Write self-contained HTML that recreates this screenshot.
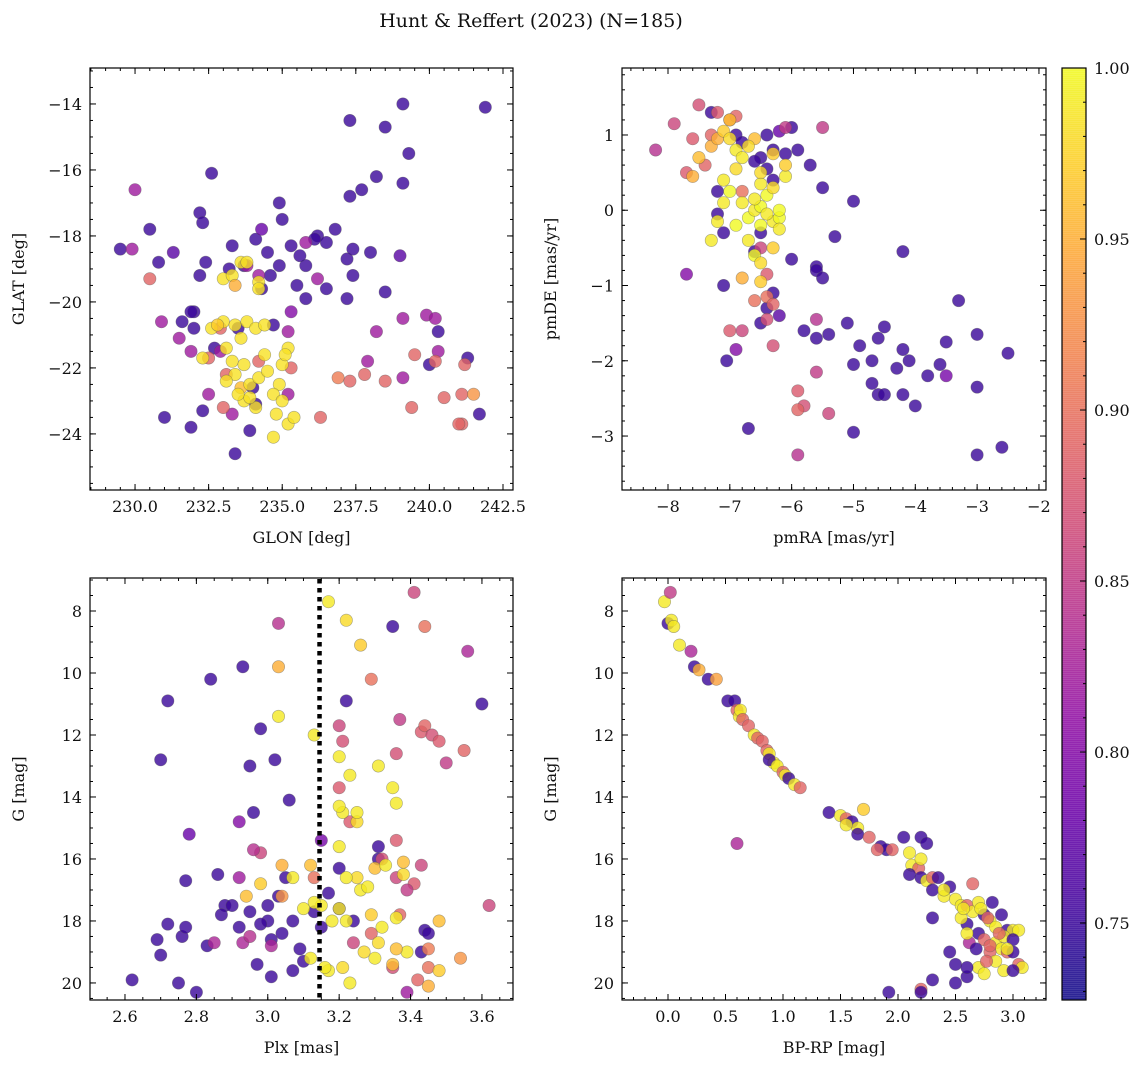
<!DOCTYPE html>
<html><head><meta charset="utf-8"><title>Hunt & Reffert (2023)</title>
<style>
html,body{margin:0;padding:0;background:#fff;}
svg{display:block;font-family:"DejaVu Serif","Liberation Serif",serif;}
</style></head>
<body>
<svg id="chart" width="1148" height="1067" viewBox="0 0 1148 1067" xmlns="http://www.w3.org/2000/svg">
<text x="531" y="27" font-size="19" text-anchor="middle" fill="#111">Hunt &amp; Reffert (2023) (N=185)</text>
<g id="layer"></g>
</svg>
<script>
// ---------- DATA ----------
// Panel 1: GLON / GLAT / membership probability
const glonA=[229.5,230.5,230.8,231.3,232,232.2,232.3,232.6,233.3,234.1,234.3,234.5,234.6,234.9,235,235.3,235.5,235.8,236.2,236.5,236.8,237.3,237.3,237.7,238.2,238.5,239.1,239.3,239.1,238,239,237.4,237.2,236.5,235.8,234.9,233.2,232.2,232,231.6,231,231.9,232.3,233.4,234.1,233.9,234,232.7,233.5,236.1,237.2,241.9,241.7,240.3,241.3,240,238.5,237.4,235.6,234.3,234.7,231.9,232.4,233.7,
230,229.9,231.5,230.9,234.2,235.2,235.3,236.2,237.9,238.2,239.1,239.9,240.2,240.3,239.1,235.2,233.3,232.5,235.8,233.8,232.9,231.9,
230.5,232.5,233.1,235.3,236.9,237.8,238.5,239.5,240.2,239.4,240.5,241.1,241.1,241.2,241.5,236.3,237.3,233,234.2,232.9,241,
233,233.3,233.6,233.4,233.8,234.2,234.2,232.6,233,233.4,233.8,234.1,234.4,233.6,233.1,233.3,233.4,233.1,233.6,233.9,234.2,234.5,235,235.2,234.9,234.7,233.7,234.1,234.8,235.2,235.4,234.7,232.3,232.8,233.9,235,233.7,234.4,235.1,233.5];
const glatA=[-18.4,-17.8,-18.8,-18.5,-20.3,-17.3,-17.6,-16.1,-18.3,-18.1,-17.8,-18.5,-19.2,-17,-17.5,-18.3,-19.5,-19.9,-18,-19.6,-17.8,-14.5,-16.8,-16.6,-16.2,-14.7,-14,-15.5,-16.4,-18.5,-18.6,-19.2,-19.9,-18.2,-18.9,-18.9,-19,-19.2,-20.8,-20.6,-23.5,-23.8,-23.3,-24.6,-23.1,-23.9,-22.6,-21.4,-20.8,-18.1,-18.7,-14.1,-23.4,-20.9,-21.7,-21.9,-19.7,-18.4,-18.6,-19.6,-20.7,-20.3,-18.8,-18.9,
-16.6,-18.4,-21.1,-20.6,-19.2,-20.9,-20.3,-19.3,-21.8,-20.9,-20.5,-20.4,-20.5,-21.5,-22.3,-22.8,-23.4,-22.8,-18.2,-18.9,-21.5,-21.5,
-19.3,-21.7,-22.2,-22,-22.3,-22.2,-22.4,-21.6,-21.8,-23.2,-22.9,-22.8,-23.7,-21.9,-22.8,-23.5,-22.4,-23.2,-21.8,-20.8,-23.7,
-19.3,-19.2,-18.8,-19.5,-18.8,-19.4,-19.6,-20.8,-20.6,-20.7,-20.6,-20.8,-20.7,-21.1,-21.4,-21.8,-22.2,-22.4,-22.6,-22.5,-22.3,-22.1,-21.9,-21.4,-22.5,-22.8,-23,-23.2,-23.4,-23.7,-23.5,-24.1,-21.7,-20.7,-22.9,-23,-21.9,-21.6,-21.6,-22.8];
const probA=[].concat(Array(64).fill(0.75),Array(22).fill(0.82),Array(21).fill(0.89),Array(40).fill(0.985));
probA[3]=0.77;probA[10]=0.78;probA[30]=0.77;probA[70]=0.8;probA[90]=0.91;probA[100]=0.93;probA[110]=0.95;probA[125]=0.96;probA[140]=0.97;

// Panel 2: pmRA / pmDE
const pmraB=[-7.3,-6.9,-6.3,-6.1,-5.9,-6.2,-6,-6.4,-6.5,-5.7,-5.5,-5.3,-5,-5.6,-5.6,-5.5,-6,-6.3,-6.5,-6.4,-6.2,-5.8,-5.6,-5.4,-5.1,-4.9,-4.7,-4.6,-4.5,-4.7,-4.6,-4.5,-4.3,-4.2,-4.1,-4.2,-4,-4.2,-3.8,-3.6,-3.5,-3.5,-3.3,-3,-3,-2.5,-2.6,-3,-5,-5,-6.7,-7.2,-7.1,-7.05,-6.6,-6.5,-7.2,-7.1,-6.8,-6.6,-6.4,-6.3,
-8.2,-7.9,-7.7,-7.5,-7.6,-7.4,-7,-7.7,-6.8,-6.3,-5.9,-5.8,-5.9,-5.9,-5.4,-5.6,-5.6,-5.5,-6.1,-6.4,-6.4,-6.3,-6.4,-6.6,-7.2,-7,-6.9,-6.8,-6.5,-7.3,-6.9,
-7.6,-7.5,-7.3,-7.2,-7,-7.1,-7,-6.9,-6.8,-6.9,-7.1,-7,-6.8,-7.1,-7.2,-7.3,-6.9,-6.7,-6.6,-6.5,-6.6,-6.4,-6.5,-6.3,-6.5,-6.3,-6.2,-6.1,-6.1,-6.7,-6.6,-6.5,-6.8,-6.5,-6.2,-6.5,-6.6,-6.3,-6.2,-6.4,-6.7,-6.3];
const pmdeB=[1.3,1,0.8,0.75,0.8,1.05,1.1,1,0.7,0.6,0.3,-0.35,0.12,-0.75,-0.8,-0.9,-0.65,-1.1,-1.5,-1.3,-1.4,-1.6,-1.7,-1.65,-1.5,-1.8,-2,-1.7,-1.55,-2.3,-2.45,-2.45,-2.1,-1.85,-2,-2.45,-2.6,-0.55,-2.2,-2.05,-2.2,-1.75,-1.2,-1.65,-2.35,-1.9,-3.15,-3.25,-2.95,-2.05,-2.9,-0.05,-1,-2,-0.55,-0.3,0.25,-0.3,0.9,0.65,0.55,0.4,
0.8,1.15,0.5,1.4,0.95,0.6,-1.6,-0.85,-1.6,-1.8,-2.4,-2.6,-2.65,-3.25,-2.7,-2.15,-1.45,1.1,1.1,-0.85,-1.15,-1.25,-1.45,-1.2,1.3,1.2,1.25,0.25,-0.5,1,-1.85,
0.45,0.7,0.85,0.95,1.2,1.05,0.95,0.8,0.7,0.55,0.4,0.25,0.1,0.1,-0.15,-0.4,-0.2,-0.1,0,0.05,0.15,0.2,0.35,0.3,-0.2,-0.15,-0.1,0.45,0.6,-0.4,-0.6,-0.7,-0.9,-0.95,-0.25,0.5,0.95,-0.5,0,-0.05,0.85,0.75];
const probB=[].concat(Array(62).fill(0.75),[0.84,0.86,0.88,0.87,0.88,0.89,0.88,0.8,0.86,0.87,0.88,0.87,0.89,0.84,0.86,0.85,0.84,0.85,0.85,0.88,0.9,0.89,0.87,0.9,0.88,0.9,0.89,0.9,0.86,0.89,0.8],
[0.95,0.96,0.95,0.95,0.96,0.97,0.98,0.99,0.99,0.98,0.99,1,0.99,0.99,0.99,0.99,1,1,0.99,1,0.99,1,0.99,0.98,1,0.99,1,0.99,0.97,0.99,1,0.98,0.95,0.97,0.99,0.98,0.96,0.97,1,0.99,0.98,0.97]);
probB[5]=0.78;probB[20]=0.77;probB[40]=0.79;

// Panel 3: Plx / G
const plxC=[2.62,2.7,2.72,2.72,2.69,2.7,2.76,2.77,2.78,2.75,2.8,2.77,2.84,2.86,2.88,2.87,2.9,2.93,2.96,2.98,2.95,2.92,3,3,3.01,3.02,2.97,3.01,3.03,3.05,3.06,3.07,3.07,3.09,3.1,3.13,3.15,3.15,3.17,3.2,3.2,3.24,3.35,3.44,3.43,3.45,3.6,3.31,3.22,3.31,2.95,2.98,3.04,2.83,2.92,
2.92,2.93,2.95,2.98,3.03,2.96,2.85,3.01,3.2,3.21,3.2,3.29,3.32,3.37,3.36,3.36,3.41,3.43,3.44,3.46,3.48,3.5,3.55,3.56,3.62,3.39,3.36,3.43,3.41,3.45,3.42,3.45,3.39,3.37,3.44,3.23,3.24,3.35,3.04,3.13,3.29,
3.17,3.03,3.03,3.13,3.22,3.26,3.2,3.23,3.21,3.25,3.31,3.2,3.25,3.22,3.26,3.28,3.3,3.33,3.38,3.38,3.29,3.36,3.2,3.22,3.18,3.21,3.17,3.23,3.27,3.3,3.35,3.31,3.39,3.36,3.45,3.48,3.48,3.54,3.15,3.13,3.1,3.07,3.04,2.94,2.98,3.12,3.12,3.25,3.36,3.35,3.32,3.2,3.16];
const gC=[19.9,12.8,10.9,18.1,18.6,19.1,18.5,18.2,15.2,20,20.3,16.7,10.2,16.5,17.5,17.8,17.5,9.8,14.5,11.8,13,14.8,17.5,18,18.6,12.8,19.4,19.8,17.2,16.6,14.1,18,19.6,18.9,19.3,17.7,15.4,18.2,17.1,16.3,17.6,18,8.5,18.3,19,18.4,11,15.6,10.9,16,17.7,18.1,18.4,18.8,18.2,
16.6,18.7,18.5,15.8,8.4,15.7,18.7,18.8,11.7,12.2,13.7,10.2,16,11.5,15.4,16.6,7.4,11.9,11.7,12,12.2,12.9,12.5,9.3,17.5,20.3,12.6,16.2,16.8,19.5,19.9,18.9,17,17.8,8.5,14.8,18.7,19.5,17.2,16.6,18.4,
7.7,9.8,11.4,12,8.3,9.1,12.7,13.3,14.5,14.8,13,14.3,16.6,16.6,17,16.9,16.3,16.2,16.1,16.5,17.8,17.9,17.6,18,18,19.5,19.6,20,19,19.2,19.4,18.7,19,18.9,20.1,18,19.6,19.2,17.5,17.4,17.6,16.6,16.2,17.2,16.8,19.2,16.2,14.5,14.2,13.7,18.2,15.6,19.5];
const probC=[].concat(Array(55).fill(0.75),[0.82,0.83,0.84,0.86,0.84,0.84,0.83,0.83,0.86,0.87,0.88,0.9,0.87,0.85,0.88,0.86,0.86,0.88,0.89,0.87,0.88,0.85,0.89,0.83,0.86,0.82,0.87,0.86,0.88,0.9,0.89,0.91,0.85,0.89,0.9,0.88,0.86,0.87,0.93,0.9,0.89],
[0.99,0.95,0.99,0.99,0.98,0.97,0.99,0.99,0.99,0.98,0.99,0.99,0.98,0.99,0.99,0.99,0.96,0.99,0.96,0.98,0.97,0.99,0.99,0.99,0.99,0.98,0.99,0.99,0.98,0.99,0.96,0.98,0.99,0.96,0.95,0.96,0.97,0.93,0.99,0.99,0.99,0.99,0.95,0.96,0.97,0.99,0.96,0.99,0.99,0.99,0.99,0.99,0.99]);
probC[8]=0.78;probC[21]=0.8;probC[36]=0.79;

// Panel 4: BP-RP / G
const bprpD=[-0.03,0.02,0,0.03,0.05,0.1,0.2,0.23,0.27,0.35,0.42,0.52,0.58,0.6,0.62,0.63,0.65,0.7,0.75,0.78,0.82,0.86,0.88,0.92,0.88,0.95,1,1.02,1.05,1.1,1.15,0.6,1.4,1.5,1.55,1.6,1.65,1.7,1.65,1.75,1.85,1.9,1.95,2.05,2.1,2.2,2.25,2.12,2.18,2.2,2.25,2.3,2.35,2.4,2.3,2.45,2.5,2.55,2.6,2.65,2.7,2.65,2.75,2.8,2.85,2.9,2.95,3,3.05,2.6,2.7,2.75,2.85,2.9,2.95,3,3.05,3.08,2.8,2.85,2.7,2.6,2.5,2.45,2.3,2.2,2.2,1.92,2.5,2.6,2.77,2.62,2.3,2.55,2.72,2.92,2.8,3,2.88,2.68,2.78,2.57,2.82,2.92,2.75,2.6,2.4,2.2,1.55,1.82,2.1,3,2.95];
const gD=[7.7,7.4,8.4,8.3,8.5,9.1,9.3,9.8,9.9,10.2,10.2,10.9,10.9,11.2,11.4,11.2,11.5,11.7,12,12.1,12.2,12.5,12.6,12.9,12.8,13,13.2,13.3,13.4,13.6,13.7,15.5,14.5,14.6,14.7,14.8,15,14.4,15.2,15.3,15.6,15.7,15.7,15.3,15.8,15.3,15.5,16.2,16.3,16.6,16.7,16.6,16.6,17.2,17,16.9,17.3,17.5,17.5,17.7,17.4,16.8,17.8,18,18.2,17.8,18.3,18.3,18.3,18.1,18.4,18.6,18.7,18.9,19,19,19.4,19.5,19,19.3,19.5,19.8,19.4,19,19.9,20.2,20.3,20.3,20,19.5,19.3,18.7,17.9,17.9,17.6,18.5,18.8,18.6,18.4,18.9,17.9,17.6,17.4,19.6,19.7,18.4,17,16,14.9,15.7,16.5,19.6,18.9];
const probD=[0.99,0.85,0.75,0.99,0.99,0.99,0.83,0.75,0.95,0.75,0.94,0.75,0.75,0.89,0.99,0.99,0.89,0.89,0.99,0.89,0.89,0.89,0.99,0.99,0.75,0.99,0.89,0.99,0.75,0.99,0.89,0.83,0.75,0.99,0.89,0.75,0.99,0.97,0.75,0.89,0.75,0.75,0.89,0.75,0.99,0.75,0.75,0.99,0.89,0.75,0.99,0.89,0.75,0.99,0.75,0.75,0.99,0.99,0.89,0.99,0.99,0.89,0.75,0.99,0.99,0.75,0.75,0.99,0.99,0.75,0.75,0.89,0.99,0.99,0.89,0.75,0.89,0.99,0.89,0.99,0.99,0.75,0.75,0.75,0.75,0.89,0.75,0.75,0.75,0.75,0.89,0.83,0.75,0.99,0.99,0.99,0.89,0.75,0.89,0.75,0.89,0.99,0.75,0.99,0.99,0.99,0.99,0.99,0.99,0.89,0.75,0.75,0.99];

// tick arrays
const ticksA_x=[230,232.5,235,237.5,240,242.5], ticksA_y=[-14,-16,-18,-20,-22,-24];
const ticksB_x=[-8,-7,-6,-5,-4,-3,-2], ticksB_y=[1,0,-1,-2,-3];
const ticksC_x=[2.6,2.8,3.0,3.2,3.4,3.6], ticksG=[8,10,12,14,16,18,20];
const ticksD_x=[0,0.5,1,1.5,2,2.5,3];
const cbTicks=[0.75,0.80,0.85,0.90,0.95,1.00];
const plxLine=3.145;

// ---------- RENDER ----------
const NS="http://www.w3.org/2000/svg";
const layer=document.getElementById('layer');
function mk(tag,attrs,parent){const e=document.createElementNS(NS,tag);for(const k in attrs)e.setAttribute(k,attrs[k]);(parent||layer).appendChild(e);return e;}
const stops=["#0d0887","#41049d","#6a00a8","#8f0da4","#b12a90","#cc4778","#e16462","#f2844b","#fca636","#fcce25","#f0f921"];
function hex(h){return [1,3,5].map(i=>parseInt(h.substr(i,2),16));}
const VMIN=0.7275,VMAX=1.0;
function cmap(v){let t=(v-VMIN)/(VMAX-VMIN);t=Math.max(0,Math.min(1,t));const f=t*10,i=Math.min(9,Math.floor(f)),r=f-i;const a=hex(stops[i]),b=hex(stops[i+1]);return 'rgb('+a.map((c,k)=>Math.round(c+(b[k]-c)*r)).join(',')+')';}
function lin(d0,d1,p0,p1){return v=>p0+(v-d0)/(d1-d0)*(p1-p0);}
function fmt(v,dec){return (v<0?'\u2212':'')+Math.abs(v).toFixed(dec);}

function panel(name,box,xl,yl,xt,yt,xdec,ydec,xminor,yminor,xlab,ylab,xs,ys,ps){
  const [L,T,R,B]=box;
  const sx=lin(xl[0],xl[1],L,R), sy=lin(yl[0],yl[1],B,T);
  const g=mk('g',{});
  
  
  const clipId='clip-'+name;
  const cp=mk('clipPath',{id:clipId},g);mk('rect',{x:L,y:T,width:R-L,height:B-T},cp);
  const pts=mk('g',{'clip-path':'url(#'+clipId+')'},g);
  
  
  for(let i=0;i<xs.length;i++){
    const c=mk('circle',{cx:sx(xs[i]).toFixed(1),cy:sy(ys[i]).toFixed(1),r:6.2,fill:cmap(ps[i]),'fill-opacity':0.8,stroke:'#555','stroke-opacity':0.5,'stroke-width':0.6},pts);
    
    
  }
  const fr=mk('rect',{x:L,y:T,width:R-L,height:B-T,fill:'none',stroke:'#000','stroke-width':1.2},g);
  
  
  const tk=mk('g',{stroke:'#000','stroke-width':1},g);
  const xa=Math.min(xl[0],xl[1]),xb=Math.max(xl[0],xl[1]);
  for(let v=Math.ceil(xa/xminor)*xminor;v<=xb;v+=xminor){const x=sx(v);mk('line',{x1:x,y1:B,x2:x,y2:B-3},tk);mk('line',{x1:x,y1:T,x2:x,y2:T+3},tk);}
  const ya=Math.min(yl[0],yl[1]),yb=Math.max(yl[0],yl[1]);
  for(let v=Math.ceil(ya/yminor)*yminor;v<=yb;v+=yminor){const y=sy(v);mk('line',{x1:L,y1:y,x2:L+3,y2:y},tk);mk('line',{x1:R,y1:y,x2:R-3,y2:y},tk);}
  xt.forEach(v=>{const x=sx(v);mk('line',{x1:x,y1:B,x2:x,y2:B-6},tk);mk('line',{x1:x,y1:T,x2:x,y2:T+6},tk);
    const t=mk('text',{x:x,y:B+22,'font-size':16,'text-anchor':'middle',fill:'#111'},g);t.textContent=fmt(v,xdec);
    
    });
  yt.forEach(v=>{const y=sy(v);mk('line',{x1:L,y1:y,x2:L+6,y2:y},tk);mk('line',{x1:R,y1:y,x2:R-6,y2:y},tk);
    const t=mk('text',{x:L-8,y:y+6,'font-size':16,'text-anchor':'end',fill:'#111'},g);t.textContent=fmt(v,ydec);
    
    });
  const xtl=mk('text',{x:(L+R)/2,y:B+53,'font-size':16,'text-anchor':'middle',fill:'#111'},g);xtl.textContent=xlab;
  
  
  const ytl=mk('text',{x:0,y:0,'font-size':16,'text-anchor':'middle',fill:'#111',transform:'translate('+(L-66)+','+((T+B)/2)+') rotate(-90)'},g);ytl.textContent=ylab;
  
  
  return {sx,sy,g,T,B};
}

panel('glon-glat',[90,68,513,490],[228.47,242.84],[-25.7,-12.91],ticksA_x,ticksA_y,1,0,0.5,0.5,'GLON [deg]','GLAT [deg]',glonA,glatA,probA);
panel('pm',[622,68,1046,490],[-8.744,-1.886],[-3.717,1.89],ticksB_x,ticksB_y,0,0,0.2,0.2,'pmRA [mas/yr]','pmDE [mas/yr]',pmraB,pmdeB,probB);
const pc=panel('plx-g',[90,578,513,1000],[2.502,3.687],[20.55,6.935],ticksC_x,ticksG,1,0,0.05,0.5,'Plx [mas]','G [mag]',plxC,gC,probC);
panel('cmd',[622,578,1046,1000],[-0.4,3.287],[20.55,6.935],ticksD_x,ticksG,1,0,0.1,0.5,'BP-RP [mag]','G [mag]',bprpD,gD,probD);

const dl=mk('line',{x1:pc.sx(plxLine),y1:579,x2:pc.sx(plxLine),y2:999,stroke:'#000','stroke-width':4.5,'stroke-dasharray':'4.5,4.5'});



// colorbar
const cb=mk('g',{});


const CL=1062,CR=1086,CT=68,CB=1000;
const cy=lin(VMIN,VMAX,CB,CT);
for(let y=CT;y<CB;y+=2){const v=VMIN+(CB-y-1)/(CB-CT)*(VMAX-VMIN);mk('rect',{x:CL,y:y,width:CR-CL,height:2.5,fill:cmap(v),'fill-opacity':0.8},cb);}
mk('rect',{x:CL,y:CT,width:CR-CL,height:CB-CT,fill:'none',stroke:'#000','stroke-width':1.2},cb);
for(let v=0.73;v<=1.0001;v+=0.01){const y=cy(v);mk('line',{x1:CR,y1:y,x2:CR-3,y2:y,stroke:'#000'},cb);}
cbTicks.forEach(v=>{const y=cy(v);mk('line',{x1:CR,y1:y,x2:CR-6,y2:y,stroke:'#000'},cb);
  const t=mk('text',{x:CR+8,y:y+6,'font-size':16,fill:'#111'},cb);t.textContent=v.toFixed(2);
  
  });
</script>
</body></html>
